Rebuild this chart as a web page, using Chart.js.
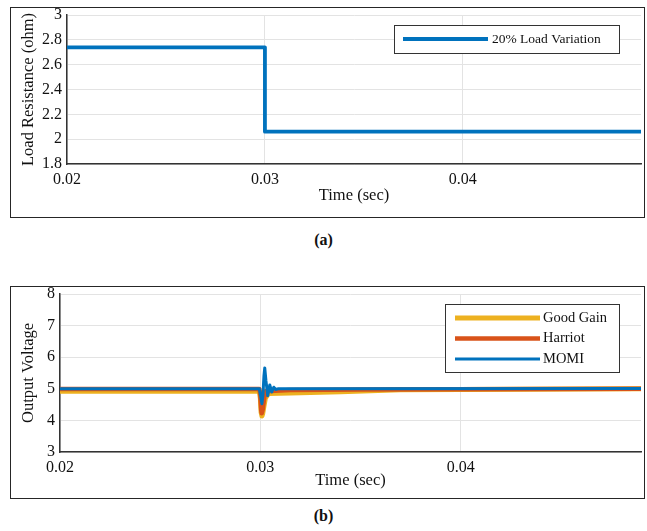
<!DOCTYPE html>
<html>
<head>
<meta charset="utf-8">
<script src="https://cdn.jsdelivr.net/npm/chart.js@4.4.0/dist/chart.umd.min.js"></script>
<style>
  html, body { margin: 0; padding: 0; background: #fff; }
  body { width: 647px; height: 531px; position: relative; overflow: hidden;
         font-family: "Liberation Serif", "Times New Roman", serif; }
  .frame { position: absolute; left: 10px; width: 633px; border: 1px solid #262626; }
  #frameA { top: 7px; height: 209px; }
  #frameB { top: 286px; height: 211px; }
  .frame canvas { display: block; }
  .caption { position: absolute; left: 0; width: 647px; text-align: center;
             font-weight: bold; font-size: 16px; color: #111; }
</style>
</head>
<body>
<div class="frame" id="frameA"><canvas id="chartA" width="633" height="209"></canvas></div>
<div class="caption" style="top:231px">(a)</div>
<div class="frame" id="frameB"><canvas id="chartB" width="633" height="211"></canvas></div>
<div class="caption" style="top:507px">(b)</div>

<script>
// ── Data ──────────────────────────────────────────────
const TIME_TICKS = [0.02, 0.03, 0.04];
const RES_TICKS = [1.8, 2, 2.2, 2.4, 2.6, 2.8, 3];
const VOLT_TICKS = [3, 4, 5, 6, 7, 8];

const LOAD_TIME = [0.02, 0.03, 0.03, 0.049];
const LOAD_RES  = [2.74, 2.74, 2.06, 2.06];

const GOODGAIN_TIME = [0.02, 0.02995, 0.03, 0.03004, 0.03008, 0.03012, 0.03018, 0.03025, 0.0304, 0.0315, 0.034, 0.037, 0.049];
const GOODGAIN_VOLT = [4.92, 4.92, 4.7, 4.25, 4.14, 4.22, 4.45, 4.7, 4.85, 4.87, 4.91, 4.97, 5.0];

const HARRIOT_TIME = [0.02, 0.02995, 0.03, 0.03004, 0.03007, 0.03012, 0.03018, 0.03025, 0.0315, 0.035, 0.049];
const HARRIOT_VOLT = [4.99, 4.99, 4.8, 4.33, 4.23, 4.35, 4.65, 4.92, 4.96, 4.98, 5.0];

const MOMI_TIME = [0.02, 0.02995, 0.03003, 0.03008, 0.03013, 0.03018, 0.03022, 0.03028, 0.03037, 0.03047, 0.03057, 0.03067, 0.03077, 0.0309, 0.049];
const MOMI_VOLT = [5.0, 5.0, 4.72, 4.53, 4.8, 5.4, 5.66, 5.25, 4.78, 5.12, 4.9, 5.05, 4.98, 5.0, 5.01];

// ── Style ─────────────────────────────────────────────
const C = {
  blue: "#0072BD",
  red: "#D95319",
  yellow: "#EDB120",
  axis: "#333333",
  grid: "#e3e3e3",
  text: "#111111"
};
const SERIF = "'Liberation Serif', 'Times New Roman', serif";

const pairs = (xs, ys) => xs.map((x, i) => ({ x, y: ys[i] }));
const fmt = (v) => String(+v.toFixed(3));

// legend drawn as a boxed MATLAB-style legend inside the plot
const boxLegend = {
  id: "boxLegend",
  afterDatasetsDraw(chart, args, o) {
    const ctx = chart.ctx;
    ctx.save();
    ctx.fillStyle = "#fff";
    ctx.fillRect(o.x, o.y, o.w, o.h);
    ctx.strokeStyle = C.axis;
    ctx.lineWidth = 1;
    ctx.strokeRect(o.x + 0.5, o.y + 0.5, o.w, o.h);
    chart.data.datasets.forEach((ds, i) => {
      const cy = o.y + o.firstRow + i * o.rowH;
      ctx.strokeStyle = ds.borderColor;
      ctx.lineWidth = ds.borderWidth;
      ctx.beginPath();
      ctx.moveTo(o.x + o.lineX, cy);
      ctx.lineTo(o.x + o.lineX + o.lineLen, cy);
      ctx.stroke();
      ctx.fillStyle = C.text;
      ctx.font = o.fontSize + "px " + SERIF;
      ctx.textBaseline = "middle";
      ctx.fillText(ds.label, o.x + o.lineX + o.lineLen + o.gap, cy);
    });
    ctx.restore();
  }
};

function makeOptions(p) {
  return {
    responsive: false,
    animation: false,
    layout: { padding: { top: 7, right: 3, left: 0, bottom: 0 } },
    elements: { line: { borderJoinStyle: "round", tension: 0 }, point: { radius: 0 } },
    plugins: {
      legend: { display: false },
      tooltip: { enabled: false },
      boxLegend: p.legend
    },
    scales: {
      x: {
        type: "linear",
        min: 0.02,
        max: 0.049,
        afterBuildTicks: (s) => { s.ticks = TIME_TICKS.map((v) => ({ value: v })); },
        afterFit: (s) => { s.height = p.xHeight; s.paddingLeft = 0; s.paddingRight = 0; },
        grid: { color: C.grid, drawTicks: false },
        border: { color: C.axis, width: 1.5 },
        ticks: { color: C.text, padding: 6, maxRotation: 0, font: { family: SERIF, size: 16 }, callback: fmt },
        title: { display: true, text: "Time (sec)", color: C.text,
                 font: { family: SERIF, size: 16.5 }, padding: { top: 0, bottom: p.xTitlePad } }
      },
      y: {
        min: p.yMin,
        max: p.yMax,
        afterBuildTicks: (s) => { s.ticks = p.yTicks.map((v) => ({ value: v })); },
        afterFit: (s) => { s.width = p.yWidth; s.paddingTop = 0; s.paddingBottom = 0; },
        grid: { color: C.grid, drawTicks: false },
        border: { color: C.axis, width: 1.5 },
        ticks: { color: C.text, padding: 5, font: { family: SERIF, size: 16 }, callback: fmt },
        title: { display: true, text: p.yTitle, color: C.text,
                 font: { family: SERIF, size: 16.5 }, padding: { top: 8, bottom: 0 } }
      }
    }
  };
}

Chart.register(boxLegend);

new Chart(document.getElementById("chartA"), {
  type: "line",
  data: {
    datasets: [
      { label: "20% Load Variation", data: pairs(LOAD_TIME, LOAD_RES),
        borderColor: C.blue, borderWidth: 3.8 }
    ]
  },
  options: makeOptions({
    yMin: 1.8, yMax: 3, yTicks: RES_TICKS, yTitle: "Load Resistance (ohm)",
    yWidth: 56, xHeight: 53, xTitlePad: 11,
    legend: { x: 383, y: 17, w: 225, h: 28, firstRow: 14, rowH: 0,
              lineX: 9, lineLen: 85, gap: 4, fontSize: 13.5 }
  })
});

// order: higher value is drawn first, so MOMI ends up on top like in MATLAB
new Chart(document.getElementById("chartB"), {
  type: "line",
  data: {
    datasets: [
      { label: "Good Gain", data: pairs(GOODGAIN_TIME, GOODGAIN_VOLT), order: 3,
        borderColor: C.yellow, borderWidth: 5 },
      { label: "Harriot", data: pairs(HARRIOT_TIME, HARRIOT_VOLT), order: 2,
        borderColor: C.red, borderWidth: 4.5 },
      { label: "MOMI", data: pairs(MOMI_TIME, MOMI_VOLT), order: 1,
        borderColor: C.blue, borderWidth: 3 }
    ]
  },
  options: makeOptions({
    yMin: 3, yMax: 8, yTicks: VOLT_TICKS, yTitle: "Output Voltage",
    yWidth: 49, xHeight: 46, xTitlePad: 7,
    legend: { x: 434, y: 17, w: 174, h: 68, firstRow: 14, rowH: 20.5,
              lineX: 10, lineLen: 85, gap: 3, fontSize: 14.5 }
  })
});
</script>
</body>
</html>
